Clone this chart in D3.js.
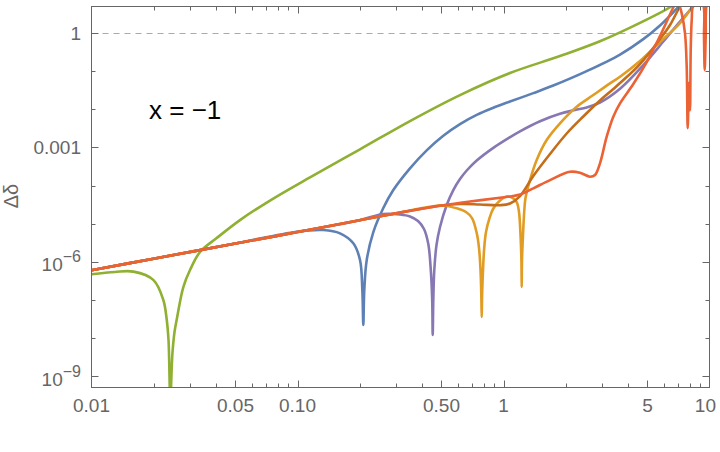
<!DOCTYPE html>
<html lang="en">
<head>
  <meta charset="UTF-8" />
  <title>x = -1</title>
  <script src="https://cdn.jsdelivr.net/npm/d3@7"></script>
  <style>
    body { margin: 0; background: #fff; }
    text { font-family: "Liberation Sans", Arial, sans-serif; }
    .frame { fill: none; stroke: #666; stroke-width: 1; }
    .tick { stroke: #666; stroke-width: 1; }
    .lbl { fill: #666; font-size: 19px; }
    .curve { fill: none; stroke-width: 2.6; stroke-linejoin: round; }
  </style>
</head>
<body>
  <svg id="chart" width="720" height="452"></svg>

  <script>
    // ---- data (x, delta) ----
    let greenX = [0.01, 0.013, 0.016, 0.02, 0.02232, 0.02313, 0.02365, 0.02413, 0.02468, 0.02529,
      0.02601, 0.02791, 0.03008, 0.03363, 0.04054, 0.05258, 0.07354, 0.115, 0.2011, 0.3516,
      0.615, 1.0753, 1.88, 2.94, 4.598, 6.577, 7.605];
    let greenY = [4.7e-7, 5.4e-7, 5.5e-7, 3.3e-7, 9.9e-8, 3.33e-8, 8.8e-9, 2.3e-10, 3.56e-9, 1.43e-8,
      3.33e-8, 2.17e-7, 6.05e-7, 1.8e-6, 4.19e-6, 1.24e-5, 4.04e-5, 1.64e-4, 8.91e-4, 4.93e-3,
      0.0237, 0.0897, 0.2506, 0.613, 1.86, 5.14, 10];

    let blueX = [0.01, 0.02, 0.05, 0.09911, 0.1335, 0.1608, 0.1866, 0.2011, 0.2064, 0.2087,
      0.211, 0.2168, 0.2334, 0.261, 0.2918, 0.3516, 0.4238, 0.5102, 0.615, 0.7413,
      0.8924, 1.0753, 1.3953, 1.7445, 2.534, 3.678, 4.771, 5.75, 6.877, 7.52];
    let blueY = [6.0e-7, 1.2e-6, 3.0e-6, 6.13e-6, 6.79e-6, 5.56e-6, 3.04e-6, 1.11e-6, 1.81e-7, 2.18e-8,
      1.81e-7, 1.11e-6, 6.02e-6, 2.57e-5, 7.62e-5, 2.83e-4, 8.39e-4, 2.03e-3, 4.11e-3, 7.17e-3,
      0.01101, 0.01602, 0.0266, 0.0421, 0.1006, 0.274, 0.696, 1.59, 4.19, 7.0];

    let purpleX = [0.01, 0.02, 0.05, 0.1, 0.2, 0.261, 0.3145, 0.3516, 0.3846, 0.4112,
      0.4315, 0.4437, 0.4507, 0.4533, 0.4563, 0.4614, 0.4729, 0.4918, 0.53, 0.5707,
      0.615, 0.6629, 0.7413, 0.8924, 1.0753, 1.2025, 1.5039, 1.88, 2.224, 2.534,
      2.94, 3.678, 4.771, 5.967, 7.191, 8.043, 8.795];
    let purpleY = [6.0e-7, 1.2e-6, 3.0e-6, 6.0e-6, 1.23e-5, 1.79e-5, 1.73e-5, 1.54e-5, 1.17e-5, 7.22e-6,
      2.91e-6, 6.05e-7, 9.88e-8, 1.19e-8, 9.88e-8, 6.05e-7, 2.74e-6, 8.14e-6, 3.08e-5, 7.62e-5,
      1.48e-4, 2.48e-4, 4.53e-4, 9.76e-4, 1.86e-3, 2.65e-3, 4.87e-3, 7.66e-3, 9.58e-3, 0.01121,
      0.01509, 0.0347, 0.1455, 0.602, 2.02, 4.04, 6.96];

    let orangeX = [0.01, 0.02, 0.05, 0.1, 0.2, 0.3, 0.5012, 0.5928, 0.6577, 0.7033,
      0.7413, 0.7606, 0.7734, 0.7803, 0.7838, 0.7873, 0.7953, 0.806, 0.8224, 0.8552,
      0.8924, 0.9616, 1.0364, 1.0997, 1.159, 1.1892, 1.2093, 1.2215, 1.2256, 1.2297,
      1.2435, 1.2603, 1.2787, 1.3447, 1.4494, 1.62, 1.88, 2.266, 2.729, 3.288,
      3.678, 4.598, 5.75, 7.191, 8.317, 8.994];
    let orangeY = [6.0e-7, 1.2e-6, 3.0e-6, 6.0e-6, 1.23e-5, 1.86e-5, 2.99e-5, 2.52e-5, 2.02e-5, 1.4e-5,
      5.66e-6, 2.29e-6, 6.05e-7, 1.34e-7, 3.54e-8, 1.34e-7, 6.05e-7, 2.29e-6, 6.02e-6, 1.4e-5,
      2.49e-5, 4.04e-5, 5.14e-5, 4.84e-5, 3.69e-5, 2.02e-5, 5.02e-6, 1.11e-6, 2.17e-7, 1.11e-6,
      5.02e-6, 2.02e-5, 4.7e-5, 1.39e-4, 4.67e-4, 1.56e-3, 4.29e-3, 0.0117, 0.0237, 0.0481,
      0.0717, 0.1852, 0.584, 1.84, 5.14, 10];

    let brownX = [0.01, 0.02, 0.05, 0.1, 0.2, 0.3, 0.5012, 0.615, 0.7691, 0.9616,
      1.0753, 1.2025, 1.3953, 1.6814, 2.027, 2.44, 2.94, 3.412, 3.678, 4.598,
      5.75, 6.432, 7.191, 7.691];
    let brownY = [6.0e-7, 1.2e-6, 3.0e-6, 6.0e-6, 1.23e-5, 1.86e-5, 2.99e-5, 3.27e-5, 3.17e-5, 3.04e-5,
      3.37e-5, 5.3e-5, 1.78e-4, 6.71e-4, 2.32e-3, 6.47e-3, 0.01702, 0.0341, 0.049, 0.1545,
      0.7, 1.63, 5.14, 10];

    let redX = [0.01, 0.02, 0.05, 0.1, 0.2, 0.3, 0.5012, 0.6877, 0.9616, 1.0753,
      1.2025, 1.3953, 1.6814, 2.103, 2.352, 2.63, 2.781, 2.94, 3.169, 3.412,
      3.678, 4.267, 4.956, 5.75, 6.651, 6.95, 7.15, 7.329, 7.605, 7.75,
      7.838, 7.954, 8.043, 8.106, 8.197, 8.345, 8.9, 9.331, 9.404, 9.477,
      9.584, 9.692, 10];
    let redY = [6.0e-7, 1.2e-6, 3.0e-6, 6.0e-6, 1.23e-5, 1.86e-5, 2.99e-5, 3.8e-5, 4.78e-5, 5.14e-5,
      5.8e-5, 8.44e-5, 1.39e-4, 2.3e-4, 2.17e-4, 1.7e-4, 1.89e-4, 3.83e-4, 1.91e-3, 6.39e-3,
      0.01437, 0.0461, 0.1744, 0.839, 4.56, 7.1, 5.25, 3.3, 0.98, 0.132,
      3.2e-3, 0.05, 9.5e-3, 0.355, 2.19, 5.6, 7.9, 5.6, 0.79, 0.107,
      0.79, 5.6, 7.9];

    // axis ticks
    let xMajor = [0.01, 0.05, 0.1, 0.5, 1, 5, 10];
    let xMajorLabels = ["0.01", "0.05", "0.10", "0.50", "1", "5", "10"];
    let xMinor = [0.02, 0.03, 0.04, 0.06, 0.07, 0.08, 0.09, 0.2, 0.3, 0.4, 0.6, 0.7, 0.8, 0.9,
      2, 3, 4, 6, 7, 8, 9];
    let yMajor = [1, 1e-3, 1e-6, 1e-9];
    let yMajorLabels = [["1", ""], ["0.001", ""], ["10", "\u22126"], ["10", "\u22129"]];
    let yMinor = [0.1, 0.01, 1e-4, 1e-5, 1e-7, 1e-8];

    let series = [
      { x: greenX, y: greenY, color: "#8FB032" },
      { x: blueX, y: blueY, color: "#5E81B5" },
      { x: purpleX, y: purpleY, color: "#8778B3" },
      { x: orangeX, y: orangeY, color: "#E19C24" },
      { x: brownX, y: brownY, color: "#C56E1A" },
      { x: redX, y: redY, color: "#EB6235" }
    ];

    let pLeft = 91.5, pRight = 709.5, pTop = 6.5, pBottom = 387.5;

    let svg = d3.select("#chart");
    let x = d3.scaleLog().domain([0.01, 10]).range([pLeft, pRight]);
    let y = d3.scaleLog().domain([5e-10, 5]).range([pBottom, pTop]);

    svg.append("defs").append("clipPath").attr("id", "plot")
      .append("rect")
      .attr("x", pLeft).attr("y", pTop)
      .attr("width", pRight - pLeft).attr("height", pBottom - pTop);

    // dashed reference line at 1
    svg.append("line")
      .attr("x1", pLeft).attr("x2", pRight)
      .attr("y1", Math.round(y(1)) + 0.5).attr("y2", Math.round(y(1)) + 0.5)
      .attr("stroke", "#aaa").attr("stroke-width", 1.2)
      .attr("stroke-dasharray", "6,5");

    // curves
    let line = d3.line()
      .x((d) => x(d[0]))
      .y((d) => y(d[1]))
      .curve(d3.curveCatmullRom.alpha(0.5));

    let g = svg.append("g").attr("clip-path", "url(#plot)");
    series.forEach(function (s) {
      g.append("path")
        .datum(d3.zip(s.x, s.y))
        .attr("class", "curve")
        .attr("stroke", s.color)
        .attr("d", line);
    });

    // frame
    svg.append("rect")
      .attr("class", "frame")
      .attr("x", pLeft).attr("y", pTop)
      .attr("width", pRight - pLeft).attr("height", pBottom - pTop);

    // x ticks, bottom and top
    function xTicks(vals, len) {
      vals.forEach(function (v) {
        let px = Math.round(x(v)) + 0.5;
        if (v === 0.01 || v === 10) return;
        svg.append("line").attr("class", "tick")
          .attr("x1", px).attr("x2", px).attr("y1", pBottom).attr("y2", pBottom - len);
        svg.append("line").attr("class", "tick")
          .attr("x1", px).attr("x2", px).attr("y1", pTop).attr("y2", pTop + len);
      });
    }
    xTicks(xMajor, 7);
    xTicks(xMinor, 4);

    function yTicks(vals, len) {
      vals.forEach(function (v) {
        let py = Math.round(y(v)) + 0.5;
        svg.append("line").attr("class", "tick")
          .attr("x1", pLeft).attr("x2", pLeft + len).attr("y1", py).attr("y2", py);
        svg.append("line").attr("class", "tick")
          .attr("x1", pRight).attr("x2", pRight - len).attr("y1", py).attr("y2", py);
      });
    }
    yTicks(yMajor, 7);
    yTicks(yMinor, 4);

    // tick labels (keep the last one inside the picture, like the original)
    xMajor.forEach(function (v, i) {
      let t = svg.append("text").attr("class", "lbl")
        .attr("x", x(v)).attr("y", 412)
        .attr("text-anchor", "middle")
        .text(xMajorLabels[i]);
      let w = t.node().getComputedTextLength();
      if (x(v) + w / 2 > 716) t.attr("x", 716 - w / 2);
    });

    yMajor.forEach(function (v, i) {
      let lab = yMajorLabels[i];
      let t = svg.append("text").attr("class", "lbl")
        .attr("x", 81).attr("text-anchor", "end");
      if (lab[1] === "") {
        t.attr("y", y(v) + 7).text(lab[0]);
      } else {
        t.attr("y", y(v) + 9.5);
        t.append("tspan").text(lab[0]);
        t.append("tspan").attr("dy", -9).style("font-size", "16px").text(lab[1]);
      }
    });

    // axis label
    svg.append("text")
      .attr("transform", "translate(18,196) rotate(-90)")
      .attr("text-anchor", "middle")
      .attr("fill", "#666")
      .style("font-size", "20px")
      .text("\u0394\u03b4");

    // annotation
    svg.append("text")
      .attr("x", 149).attr("y", 119)
      .attr("fill", "#000")
      .style("font-size", "26px")
      .text("x = \u22121");
  </script>
</body>
</html>
